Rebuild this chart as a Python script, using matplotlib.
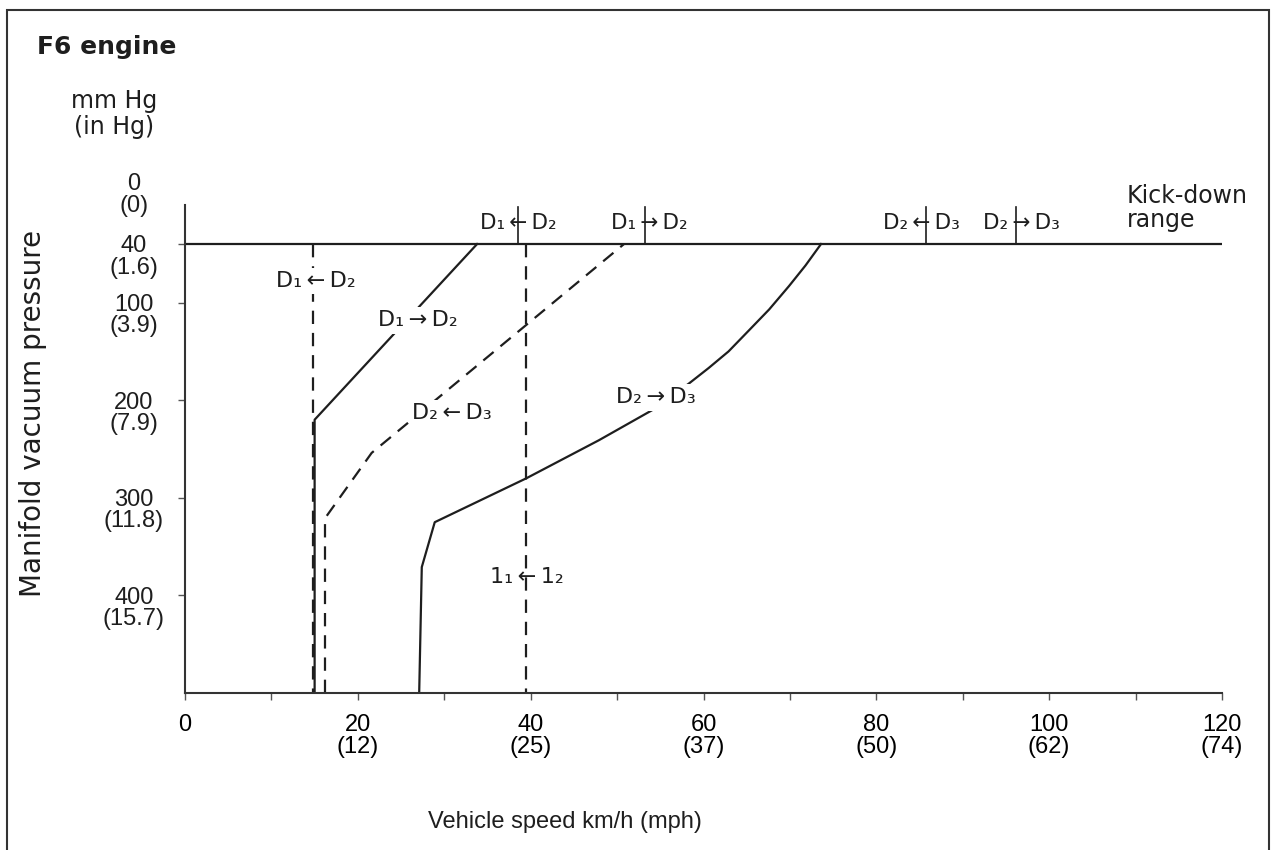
import matplotlib
matplotlib.use("Agg")
import matplotlib.pyplot as plt
from matplotlib.patches import Rectangle

plt.rcParams['font.family'] = ['DejaVu Sans']
NUM_FONT = ['Liberation Sans', 'DejaVu Sans']

# ---- data -------------------------------------------------------------
speed_ticks = [0, 20, 40, 60, 80, 100, 120]
speed_mph = ['', '(12)', '(25)', '(37)', '(50)', '(62)', '(74)']
speed_minor = [10, 30, 50, 70, 90, 110]

vac_ticks = [0, 40, 100, 200, 300, 400]
vac_inhg = ['(0)', '(1.6)', '(3.9)', '(7.9)', '(11.8)', '(15.7)']

kickdown_vac = 40

# D1 -> D2 upshift (solid)
d12_up_speed = [15.0, 15.0, 33.8]
d12_up_vac = [500, 220, 40]

# D1 <- D2 downshift (dashed)
d12_down_speed = [14.8, 14.8]
d12_down_vac = [40, 500]

# D2 <- D3 downshift (dashed)
d23_down_speed = [16.2, 16.2, 21.6, 50.8]
d23_down_vac = [500, 321, 254, 40]

# D2 -> D3 upshift (solid)
d23_up_speed = [27.1, 27.4, 28.9, 39.5, 47.9, 54.1, 58.3, 60.6, 62.9,
                65.2, 67.6, 69.9, 71.8, 73.6]
d23_up_vac = [500, 371, 325, 280, 241, 210, 183, 167, 150,
              129, 107, 83, 62, 40]

# 1_1 <- 1_2 downshift (dashed)
l12_down_speed = [39.5, 39.5]
l12_down_vac = [40, 500]

# kick-down shift points
kd_speed = [38.5, 53.2, 85.7, 96.2]
kd_labels = ['D₁\u2009←\u2009D₂', 'D₁\u2009→\u2009D₂',
             'D₂\u2009←\u2009D₃', 'D₂\u2009→\u2009D₃']

# ---- figure -----------------------------------------------------------
W, H = 1274, 850
fig = plt.figure(figsize=(W / 100, H / 100), dpi=100)
ax = fig.add_axes([185 / W, 1 - 693 / H, (1222 - 185) / W, (693 - 205) / H])

ink = '#1e1e1e'
lw = 1.6
dash = (0, (6, 4))

ax.set_xlim(0, 120)
ax.set_ylim(500, 0)
for s in ('top', 'right'):
    ax.spines[s].set_visible(False)
for s in ('left', 'bottom'):
    ax.spines[s].set_linewidth(1.5)
    ax.spines[s].set_color('#333333')

ax.set_xticks(speed_ticks)
ax.set_xticklabels([f'{s}\n{m}' if m else f'{s}' for s, m in zip(speed_ticks, speed_mph)],
                   fontsize=17, linespacing=1.0, va='top', family=NUM_FONT)
ax.set_xticks(speed_minor, minor=True)
ax.tick_params(axis='x', which='both', direction='out', length=5, width=1,
               color='#555555', pad=10)

ax.set_yticks([v for v in vac_ticks if v > 0])
ax.set_yticklabels([])
ax.tick_params(axis='y', direction='out', length=5, width=1, color='#555555')

for v, lab in zip(vac_ticks, vac_inhg):
    dy = 10 if v == 0 else -13
    ax.annotate(f'{v}\n{lab}', xy=(0, v), xycoords=('axes fraction', 'data'),
                xytext=(-51, dy), textcoords='offset pixels', family=NUM_FONT,
                ha='center', va='center', fontsize=17, linespacing=0.95, color=ink)

# kick-down boundary
ax.plot([0, 120], [kickdown_vac, kickdown_vac], color=ink, lw=lw, solid_capstyle='butt')

# shift lines
ax.plot(d12_down_speed, d12_down_vac, color=ink, lw=lw, ls=dash)
ax.plot(d12_up_speed, d12_up_vac, color=ink, lw=lw)
ax.plot(d23_down_speed, d23_down_vac, color=ink, lw=lw, ls=dash)
ax.plot(d23_up_speed, d23_up_vac, color=ink, lw=lw)
ax.plot(l12_down_speed, l12_down_vac, color=ink, lw=lw, ls=dash)

# kick-down markers and labels above the boundary
kd_text_x = [38.6, 53.7, 85.2, 96.8]
for sp, tx, lab in zip(kd_speed, kd_text_x, kd_labels):
    ax.plot([sp, sp], [kickdown_vac, 2], color=ink, lw=1.2, clip_on=False)
    ax.text(tx, 18.5, lab, ha='center', va='center', fontsize=15.5, color=ink,
            clip_on=False)

ax.text(109, 3, 'Kick-down\nrange', ha='left', va='center', fontsize=17,
        linespacing=1.0, color=ink, clip_on=False)

# curve labels
box = dict(boxstyle='square,pad=0.15', fc='white', ec='none')
lab_kw = dict(ha='center', va='center', fontsize=16, color=ink)
ax.text(15.2, 78, 'D₁\u2009←\u2009D₂', bbox=box, **lab_kw)
ax.text(26.9, 118, 'D₁\u2009→\u2009D₂', bbox=box, **lab_kw)
ax.text(30.9, 213, 'D₂\u2009←\u2009D₃', bbox=box, **lab_kw)
ax.text(54.5, 197, 'D₂\u2009→\u2009D₃', bbox=box, **lab_kw)
ax.text(39.6, 381, '1₁\u2009←\u20091₂', **lab_kw)

# titles and axis labels
fig.text(37 / W, 1 - 47 / H, 'F6 engine', fontsize=18, fontweight='bold',
         ha='left', va='center', color=ink)
fig.text(114 / W, 1 - 114 / H, 'mm Hg\n(in Hg)', fontsize=17, ha='center',
         va='center', linespacing=1.15, color=ink)
fig.text(33 / W, 1 - 413 / H, 'Manifold vacuum pressure', fontsize=20,
         rotation=90, ha='center', va='center', color=ink)
fig.text(565 / W, 1 - 822 / H, 'Vehicle speed km/h (mph)', fontsize=17,
         ha='center', va='center', color=ink, family=NUM_FONT)

# outer frame
fig.add_artist(Rectangle((7 / W, -0.05), (1269 - 7) / W, 1 - 10 / H + 0.05,
                         transform=fig.transFigure, fill=False,
                         ec='#333333', lw=1.5))

fig.savefig('out.png', dpi=100)
